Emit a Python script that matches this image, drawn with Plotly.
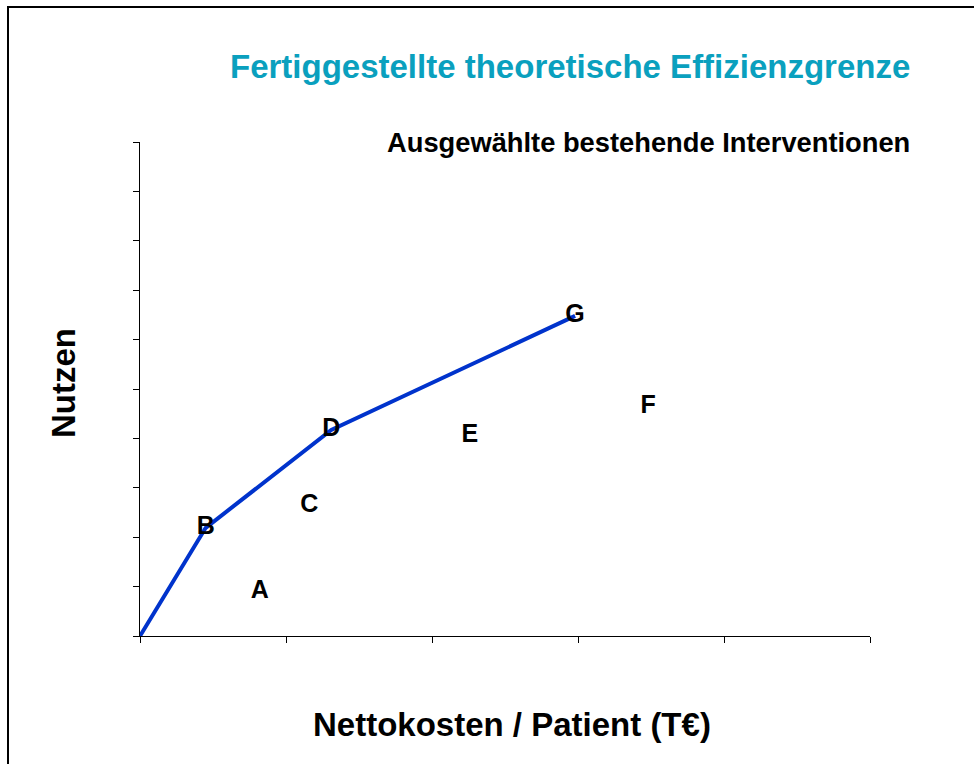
import plotly.graph_objects as go

# Data
labels = ["A", "B", "C", "D", "E", "F", "G"]
cost = [0.82, 0.45, 1.16, 1.31, 2.26, 3.48, 2.98]
benefit = [0.89, 2.19, 2.63, 4.17, 4.05, 4.64, 6.48]

frontier_cost = [0.0, 0.45, 1.31, 2.98]
frontier_benefit = [0.0, 2.19, 4.17, 6.48]

title_text = "Fertiggestellte theoretische Effizienzgrenze"
subtitle_text = "Ausgewählte bestehende Interventionen"
x_title = "Nettokosten / Patient (T€)"
y_title = "Nutzen"

W, H = 974, 764
# plot area in screen pixels: x 140..870, y 142..636
SL, SR, ST, SB = 140, 870, 142, 636
L, T = SL, ST
R, B = W - SR, H - SB
PW, PH = SR - SL, SB - ST


def px(x):
    return (x - SL) / PW


def py(y):
    return (SB - y) / PH


FONT = "Liberation Sans, Arial, sans-serif"

fig = go.Figure()
fig.add_trace(go.Scatter(
    x=frontier_cost, y=frontier_benefit, mode="lines",
    line=dict(color="#0033CC", width=4), hoverinfo="skip", showlegend=False,
))
fig.add_trace(go.Scatter(
    x=cost, y=benefit, mode="text",
    text=[f"<b>{t}</b>" for t in labels], textposition="middle center",
    textfont=dict(family=FONT, size=25, color="black"), showlegend=False,
))

fig.update_layout(
    width=W, height=H,
    margin=dict(l=L, r=R, t=T, b=B, autoexpand=False),
    paper_bgcolor="white", plot_bgcolor="white",
    xaxis=dict(range=[0, 5], dtick=1, tick0=0, showgrid=False, zeroline=False,
               showline=True, linecolor="black", linewidth=1,
               ticks="outside", ticklen=6, tickcolor="black",
               showticklabels=False, fixedrange=True),
    yaxis=dict(range=[0, 10], dtick=1, tick0=0, showgrid=False, zeroline=False,
               showline=True, linecolor="black", linewidth=1,
               ticks="outside", ticklen=6, tickcolor="black",
               showticklabels=False, fixedrange=True),
    annotations=[
        dict(text=f"<b>{title_text}</b>", xref="paper", yref="paper",
             x=px(912), y=py(67), xanchor="right", yanchor="middle",
             showarrow=False, font=dict(family=FONT, size=33, color="#0AA0BE")),
        dict(text=f"<b>{subtitle_text}</b>", xref="paper", yref="paper",
             x=px(912), y=py(142), xanchor="right", yanchor="middle",
             showarrow=False, font=dict(family=FONT, size=27.3, color="black")),
        dict(text=f"<b>{x_title}</b>", xref="paper", yref="paper",
             x=px(512), y=py(724), xanchor="center", yanchor="middle",
             showarrow=False, font=dict(family=FONT, size=33, color="black")),
        dict(text=f"<b>{y_title}</b>", xref="paper", yref="paper",
             x=px(63), y=py(383), xanchor="center", yanchor="middle",
             textangle=-90, showarrow=False,
             font=dict(family=FONT, size=33, color="black")),
    ],
    shapes=[
        dict(type="line", xref="paper", yref="paper",
             x0=px(8), x1=px(990), y0=py(7), y1=py(7),
             line=dict(color="black", width=2)),
        dict(type="line", xref="paper", yref="paper",
             x0=px(8), x1=px(8), y0=py(6), y1=py(790),
             line=dict(color="black", width=2)),
    ],
)

fig.write_html(
    "out.html",
    config={"displayModeBar": False},
    post_script="document.body.style.margin='0';"
                "document.body.style.overflow='hidden';",
)
